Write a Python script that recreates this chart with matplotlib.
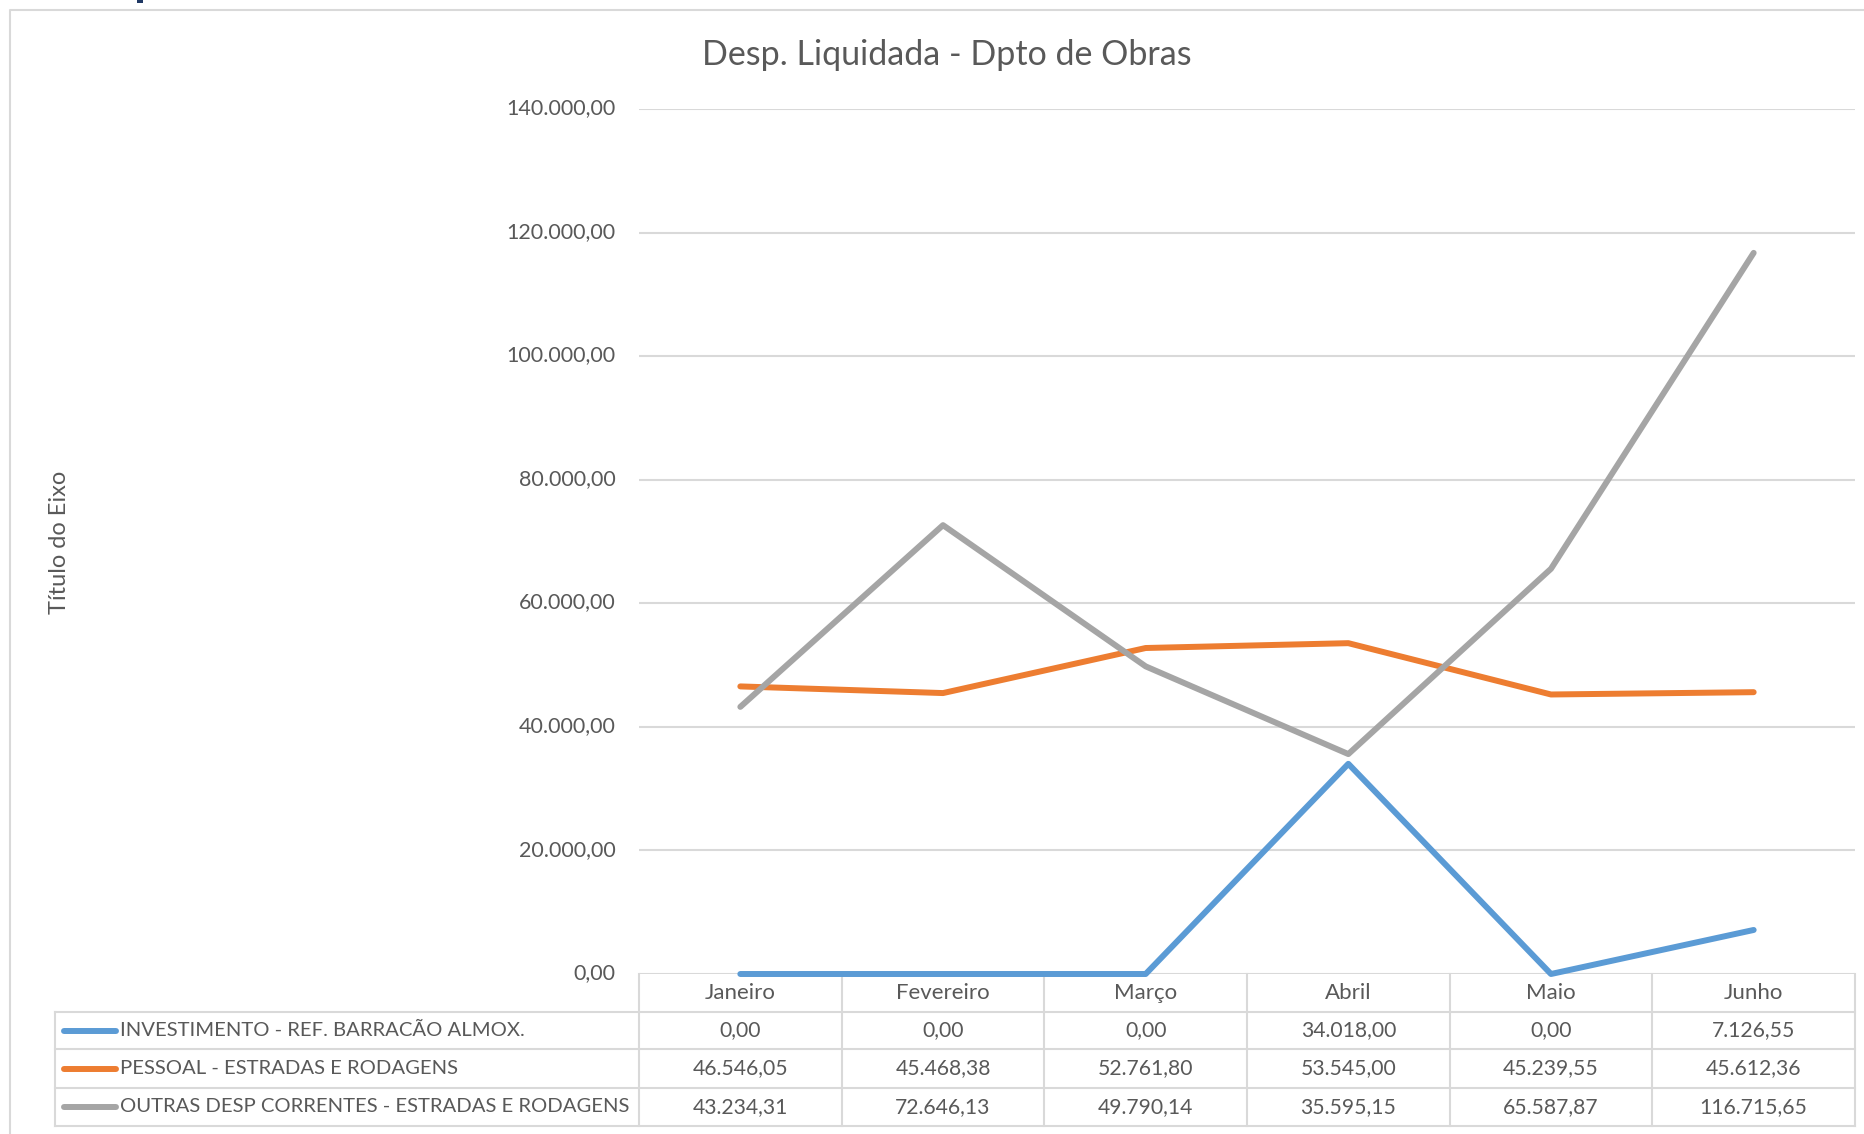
import matplotlib
matplotlib.use('Agg')
from matplotlib import pyplot as plt
from matplotlib.ticker import FuncFormatter
from matplotlib.transforms import ScaledTranslation

# dados (R$)
meses = ['Janeiro', 'Fevereiro', 'Março', 'Abril', 'Maio', 'Junho']
investimento = [0.00, 0.00, 0.00, 34018.00, 0.00, 7126.55]
pessoal = [46546.05, 45468.38, 52761.80, 53545.00, 45239.55, 45612.36]
outras = [43234.31, 72646.13, 49790.14, 35595.15, 65587.87, 116715.65]

series = [
    ('INVESTIMENTO - REF. BARRACÃO ALMOX.', investimento, '#5B9BD5'),
    ('PESSOAL - ESTRADAS E RODAGENS', pessoal, '#ED7D31'),
    ('OUTRAS DESP CORRENTES - ESTRADAS E RODAGENS', outras, '#A5A5A5'),
]

W, H = 1865, 1134
TXT = '#595959'
GRID = '#D9D9D9'
plt.rcParams['font.family'] = ['Lato', 'DejaVu Sans']


def br(v):
    s = f'{v:,.2f}'
    return s.replace(',', '#').replace('.', ',').replace('#', '.')


fig = plt.figure(figsize=(W / 100, H / 100), dpi=100)

# camada de fundo em pixels (moldura e tabela de dados)
bg = fig.add_axes([0, 0, 1, 1], zorder=0)
bg.set_xlim(0, W)
bg.set_ylim(H, 0)
bg.axis('off')

# moldura do gráfico
bg.plot([10, 10, W], [H, 10, 10], color=GRID, lw=1.5, solid_capstyle='butt')
bg.add_patch(plt.Rectangle((137, 0), 6, 3, color='#1F3864', lw=0))

# área de plotagem
x0, x1, ytop, ybot = 639, 1855, 109, 974
ax = fig.add_axes([x0 / W, 1 - ybot / H, (x1 - x0) / W, (ybot - ytop) / H], zorder=1)
ax.patch.set_alpha(0)
ax.set_xlim(-0.5, len(meses) - 0.5)
ax.set_ylim(0, 140000)
ax.set_yticks(range(0, 140001, 20000))
ax.yaxis.set_major_formatter(FuncFormatter(lambda v, p: br(v)))
ax.set_xticks([])
ax.tick_params(axis='y', length=0, pad=17, labelsize=15.5, labelcolor=TXT)
up = ScaledTranslation(0, 2 / 72, fig.dpi_scale_trans)
for lb in ax.get_yticklabels():
    lb.set_transform(lb.get_transform() + up)
ax.grid(axis='y', color=GRID, lw=1.5)
ax.set_axisbelow(True)
for sp in ax.spines.values():
    sp.set_visible(False)

for nome, vals, cor in series:
    ax.plot(range(len(meses)), vals, color=cor, lw=4.3,
            solid_capstyle='round', solid_joinstyle='round', clip_on=False)

bg.text(947, 55, 'Desp. Liquidada - Dpto de Obras', ha='center', va='center',
        fontsize=24.5, color=TXT)

bg.text(60, 542, 'Título do Eixo', rotation=90, ha='center', va='center',
        fontsize=17, color=TXT)

# tabela de dados
rows = [974, 1012, 1049, 1088, 1126]
tleft = 55
cw = (x1 - x0) / len(meses)
for yy in rows[1:]:
    bg.plot([tleft, x1], [yy, yy], color=GRID, lw=1.5)
bg.plot([tleft, tleft], [rows[1], rows[-1]], color=GRID, lw=1.5)
for k in range(len(meses) + 1):
    xx = x0 + k * cw
    bg.plot([xx, xx], [rows[0], rows[-1]], color=GRID, lw=1.5)

for i, m in enumerate(meses):
    bg.text(x0 + (i + 0.5) * cw, (rows[0] + rows[1]) / 2, m, ha='center', va='center',
            fontsize=16, color=TXT)

for r, (nome, vals, cor) in enumerate(series):
    yc = (rows[r + 1] + rows[r + 2]) / 2
    bg.plot([64, 116], [yc, yc], color=cor, lw=4.3, solid_capstyle='round')
    bg.text(120, yc, nome, ha='left', va='center', fontsize=14.6, color=TXT)
    for i, v in enumerate(vals):
        bg.text(x0 + (i + 0.5) * cw, yc, br(v), ha='center', va='center',
                fontsize=15.2, color=TXT)

fig.savefig('out.png', dpi=100)
